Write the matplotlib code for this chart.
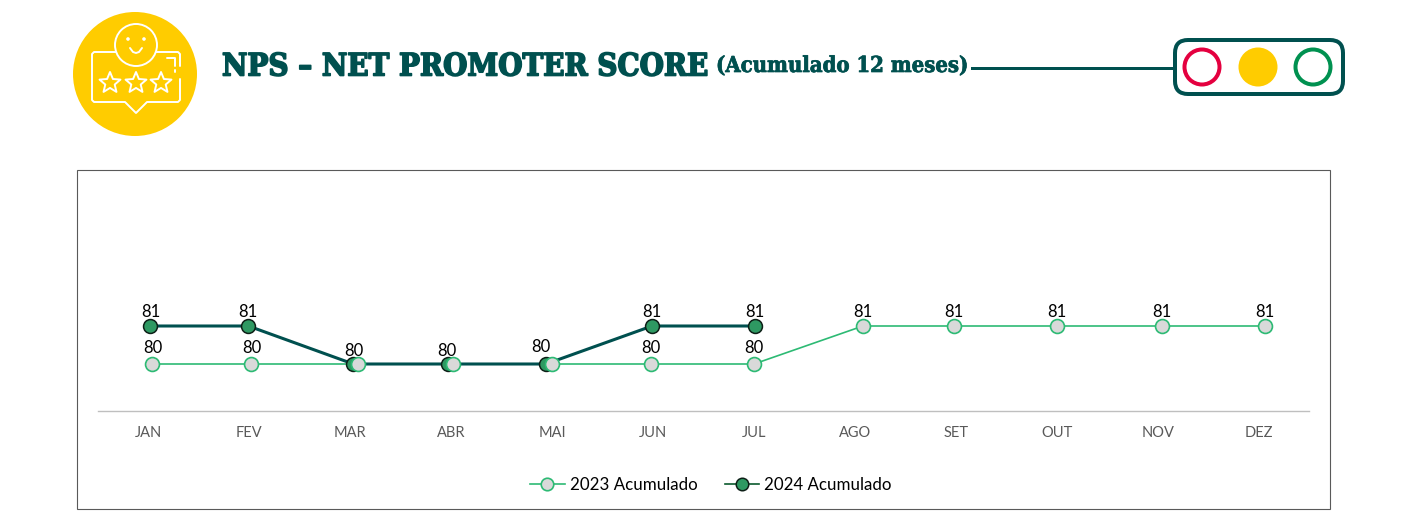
import numpy as np
import matplotlib
matplotlib.use('Agg')
import matplotlib.pyplot as plt
import matplotlib.patheffects as pe
from matplotlib.patches import Circle, FancyBboxPatch, Polygon, Rectangle

months = ['JAN', 'FEV', 'MAR', 'ABR', 'MAI', 'JUN', 'JUL', 'AGO', 'SET', 'OUT', 'NOV', 'DEZ']
# points are not centred on the months in the original, so keep the month position too
pos_2023 = [0.04, 1.02, 2.08, 3.02, 4.00, 4.98, 6.00, 7.08, 7.98, 9.00, 10.04, 11.06]
val_2023 = [80, 80, 80, 80, 80, 80, 80, 81, 81, 81, 81, 81]
pos_2024 = [0.02, 0.99, 2.03, 2.97, 3.94, 4.99, 6.01]
val_2024 = [81, 81, 80, 80, 80, 81, 81]
labels_2023 = ['80', '80', '', '', '', '80', '80', '81', '81', '81', '81', '81']
labels_2024 = ['81', '81', '80', '80', '80', '81', '81']

DARK = '#00504f'
W, H = 1426, 522
PX = 72 / 100


def star(cx, cy, r):
    ang = np.deg2rad(-90 + 36 * np.arange(10))
    rad = np.where(np.arange(10) % 2 == 0, r, r * 0.45)
    return np.column_stack([cx + rad * np.cos(ang), cy + rad * np.sin(ang)])


fig = plt.figure(figsize=(W / 100, H / 100), dpi=100)

bg = fig.add_axes([0, 0, 1, 1])
bg.set_xlim(0, W)
bg.set_ylim(H, 0)
bg.axis('off')

# icon
bg.add_patch(Circle((135, 74), 62, color='#ffcc00', lw=0))
white = dict(color='white', lw=1.4, solid_capstyle='round', solid_joinstyle='round')
bg.add_patch(Circle((136, 45), 21, fill=False, ec='white', lw=1.4))
bg.plot([116, 94, 92, 92, 94, 125, 136, 147, 178, 180, 180],
        [52, 52, 54, 100, 102, 102, 113, 102, 102, 100, 79], **white)
bg.plot([156, 178, 180, 180], [52, 52, 54, 66], **white)
bg.plot([167, 175, 175], [58, 58, 66], **white)
bg.plot([175, 175], [70, 72], **white)
bg.plot([130, 133, 136, 139, 142], [48, 52, 53, 52, 48], **white)
bg.add_patch(Circle((128, 39), 1.8, color='white', lw=0))
bg.add_patch(Circle((144, 39), 1.8, color='white', lw=0))
for cx in [110, 136, 161]:
    bg.add_patch(Polygon(star(cx, 83, 11), closed=True, fill=False, ec='white', lw=1.4, joinstyle='round'))

# title
bg.text(222, 67, 'NPS – NET PROMOTER SCORE', family='DejaVu Serif', weight='bold', stretch='condensed',
        fontsize=22.3, color=DARK, va='center', ha='left',
        path_effects=[pe.withStroke(linewidth=1.2, foreground=DARK)])
bg.text(716, 66, '(Acumulado 12 meses)', family='DejaVu Serif', weight='bold', stretch='condensed',
        fontsize=15.8, color=DARK, va='center', ha='left',
        path_effects=[pe.withStroke(linewidth=0.5, foreground=DARK)])
bg.plot([972, 1173], [68, 68], color=DARK, lw=3 * PX)

# traffic light
bg.add_patch(FancyBboxPatch((1188, 53), 142, 28, boxstyle='round,pad=13,rounding_size=13',
                            fill=False, ec=DARK, lw=4 * PX))
bg.add_patch(Circle((1202, 67), 17.5, fill=False, ec='#e4003f', lw=4 * PX))
bg.add_patch(Circle((1258, 67), 19.5, color='#ffcc00', lw=0))
bg.add_patch(Circle((1313, 67), 17.5, fill=False, ec='#009150', lw=4 * PX))

# chart frame
bg.add_patch(Rectangle((77, 170), 1253, 339, fill=False, ec='#595959', lw=0.8))

ax = fig.add_axes([98 / W, 1 - 411 / H, 1211 / W, 241 / H])
ax.patch.set_alpha(0)
ax.set_xlim(-0.5, 11.5)
ax.set_ylim(80 - 47 / 38, 81 + 156 / 38)
for side in ['top', 'left', 'right']:
    ax.spines[side].set_visible(False)
ax.spines['bottom'].set_color('#bfbfbf')
ax.spines['bottom'].set_linewidth(1)
ax.set_yticks([])
ax.set_xticks(range(12))
ax.set_xticklabels(months, family='Lato', fontsize=10.5, color='#595959')
ax.tick_params(axis='x', length=0, pad=11)

# dark line goes over the light one, but the light markers stay on top
ax.plot(pos_2023, val_2023, color='#2dba74', lw=1.2, zorder=2)
ax.plot(pos_2024, val_2024, color=DARK, lw=2.2, zorder=3)
ax.plot(pos_2024, val_2024, ls='none', marker='o', ms=10, mfc='#2e9962', mec='#0d1f17', mew=1.1, zorder=4)
ax.plot(pos_2023, val_2023, ls='none', marker='o', ms=10, mfc='#d9d9d9', mec='#2dba74', mew=1.2, zorder=5)

for x, y, t in zip(pos_2023, val_2023, labels_2023):
    if t:
        ax.annotate(t, (x, y), xytext=(0, 5.7 if y == 80 else 4.5), textcoords='offset points', ha='center',
                    va='bottom', family='Lato', fontsize=12, color='black', zorder=6)
label_dx = [0, 0, 0.7, -0.7, -4, 0, 0]
label_dy = [4.5, 4.5, 3.5, 3.5, 6.4, 4.5, 4.5]
for x, y, t, dx, dy in zip(pos_2024, val_2024, labels_2024, label_dx, label_dy):
    ax.annotate(t, (x, y), xytext=(dx, dy), textcoords='offset points', ha='center',
                va='bottom', family='Lato', fontsize=12, color='black', zorder=6)

# legend
leg_2023 = ax.plot([], [], color='#2dba74', lw=1.2, marker='o', ms=9, mfc='#d9d9d9', mec='#2dba74', mew=1.2)[0]
leg_2024 = ax.plot([], [], color='#0b5a2e', lw=1.2, marker='o', ms=9, mfc='#2e9962', mec='#0d1f17', mew=1.1)[0]
fig.legend([leg_2023, leg_2024], ['2023 Acumulado', '2024 Acumulado'], loc='center',
           bbox_to_anchor=(711 / W, 1 - 485 / H), ncol=2, frameon=False,
           prop={'family': 'Lato', 'size': 12.2}, handlelength=2.05, handletextpad=0.3, columnspacing=1.6)

fig.savefig('out.png', dpi=100)
